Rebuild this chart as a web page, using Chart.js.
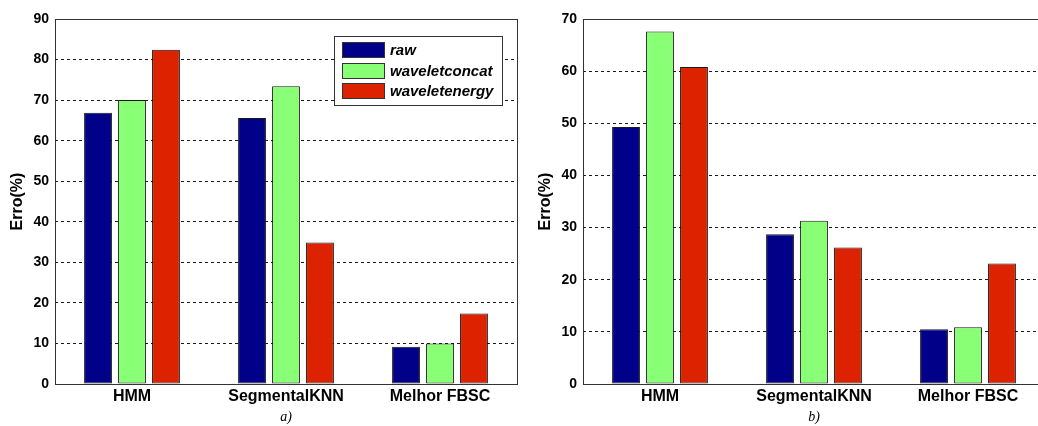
<!DOCTYPE html>
<html>
<head>
<meta charset="utf-8">
<script src="https://cdn.jsdelivr.net/npm/chart.js@4/dist/chart.umd.min.js"></script>
<style>
  html, body { margin: 0; padding: 0; background: #fff; overflow: hidden; width: 1038px; height: 426px; }
  .panel { position: absolute; top: 0; width: 520px; height: 426px; overflow: hidden; }
  #panelA { left: 0; }
  #panelB { left: 528px; width: 510px; }
  canvas { display: block; }
</style>
</head>
<body>
<div class="panel" id="panelA"><canvas id="chartA" width="520" height="426"></canvas></div>
<div class="panel" id="panelB"><canvas id="chartB" width="520" height="426"></canvas></div>
<script>
// Categories and series
const categories = ['HMM', 'SegmentalKNN', 'Melhor FBSC'];
const seriesNames = ['raw', 'waveletconcat', 'waveletenergy'];

// Panel a) error rates (%)
const rawA = [66.9, 65.6, 9.2];
const waveletConcatA = [70.0, 73.4, 10.0];
const waveletEnergyA = [82.4, 34.9, 17.4];

// Panel b) error rates (%)
const rawB = [49.3, 28.7, 10.5];
const waveletConcatB = [67.6, 31.3, 10.9];
const waveletEnergyB = [60.8, 26.2, 23.1];

// Axis ranges and captions
const yMaxA = 90;
const yMaxB = 70;
const yStep = 10;
const captionA = 'a)';
const captionB = 'b)';
const yTitle = 'Erro(%)';

const seriesColors = ['#000088', '#88FF74', '#DD2200'];
const SANS = '"Liberation Sans", Arial, Helvetica, sans-serif';
const SERIF = '"Liberation Serif", "Times New Roman", serif';

// Solid box around the plotting area
const framePlugin = {
  id: 'frame',
  afterDatasetsDraw(chart) {
    const { ctx, chartArea: a } = chart;
    ctx.save();
    ctx.strokeStyle = '#333';
    ctx.lineWidth = 1;
    ctx.strokeRect(Math.round(a.left) + 0.5, Math.round(a.top) + 0.5,
                   Math.round(a.right - a.left), Math.round(a.bottom - a.top));
    ctx.restore();
  }
};

// Boxed legend in the upper-right corner of the plotting area
const boxedLegend = {
  id: 'boxedLegend',
  afterDraw(chart, args, opts) {
    if (!opts.show) return;
    const { ctx, chartArea: a } = chart;
    const items = chart.data.datasets;
    ctx.save();
    ctx.font = 'italic bold 15px ' + SANS;
    const textW = Math.max(...items.map(d => ctx.measureText(d.label).width));
    const swW = 43, swH = 16, rowH = 20.7, padL = 8, gap = 5, padR = 9, padV = 6;
    const w = Math.round(padL + swW + gap + textW + padR);
    const h = Math.round(padV * 2 + rowH * (items.length - 1) + swH);
    const x = Math.round(a.right - 15 - w);
    const y = Math.round(a.top + 17);
    ctx.fillStyle = '#fff';
    ctx.fillRect(x, y, w, h);
    ctx.strokeStyle = '#333';
    ctx.lineWidth = 1;
    ctx.strokeRect(x + 0.5, y + 0.5, w, h);
    items.forEach((d, i) => {
      const sy = Math.round(y + padV + i * rowH);
      ctx.fillStyle = d.backgroundColor;
      ctx.fillRect(x + padL, sy, swW, swH);
      ctx.strokeStyle = '#333';
      ctx.strokeRect(x + padL + 0.5, sy + 0.5, swW - 1, swH - 1);
      ctx.fillStyle = '#000';
      ctx.textBaseline = 'middle';
      ctx.textAlign = 'left';
      ctx.fillText(d.label, x + padL + swW + gap, sy + swH / 2 + 1);
    });
    ctx.restore();
  }
};

function makeChart(canvasId, seriesValues, yMax, caption, showLegend) {
  return new Chart(document.getElementById(canvasId), {
    type: 'bar',
    data: {
      labels: categories,
      datasets: seriesNames.map((name, i) => ({
        label: name,
        data: seriesValues[i],
        backgroundColor: seriesColors[i],
        borderColor: '#1a1a1a',
        borderWidth: 1,
        borderSkipped: false,
        categoryPercentage: 0.662,
        barPercentage: 0.82
      }))
    },
    options: {
      responsive: false,
      animation: false,
      devicePixelRatio: 1,
      layout: { padding: { left: 0, right: 3, top: 19, bottom: 0 } },
      plugins: {
        legend: { display: false },
        tooltip: { enabled: false },
        boxedLegend: { show: showLegend }
      },
      scales: {
        x: {
          grid: { display: false, drawTicks: false },
          border: { display: false },
          ticks: { color: '#000', padding: 3, font: { family: SANS, size: 16, weight: 'bold' } },
          title: {
            display: true, text: caption, color: '#000',
            font: { family: SERIF, size: 14, style: 'italic' },
            padding: { top: 0, bottom: 0 }
          },
          afterFit(scale) { scale.height = 42; }
        },
        y: {
          min: 0, max: yMax,
          ticks: { stepSize: yStep, color: '#000', padding: 6, font: { family: SANS, size: 14, weight: 'bold' } },
          grid: { color: '#1a1a1a', lineWidth: 1, drawTicks: false },
          border: { display: false, dash: [3, 3] },
          title: {
            display: true, text: yTitle, color: '#000',
            font: { family: SANS, size: 16, weight: 'bold' },
            padding: { top: 8, bottom: 0 }
          },
          afterFit(scale) { scale.width = 55; }
        }
      }
    },
    plugins: [framePlugin, boxedLegend]
  });
}

makeChart('chartA', [rawA, waveletConcatA, waveletEnergyA], yMaxA, captionA, true);
makeChart('chartB', [rawB, waveletConcatB, waveletEnergyB], yMaxB, captionB, false);
</script>
</body>
</html>
